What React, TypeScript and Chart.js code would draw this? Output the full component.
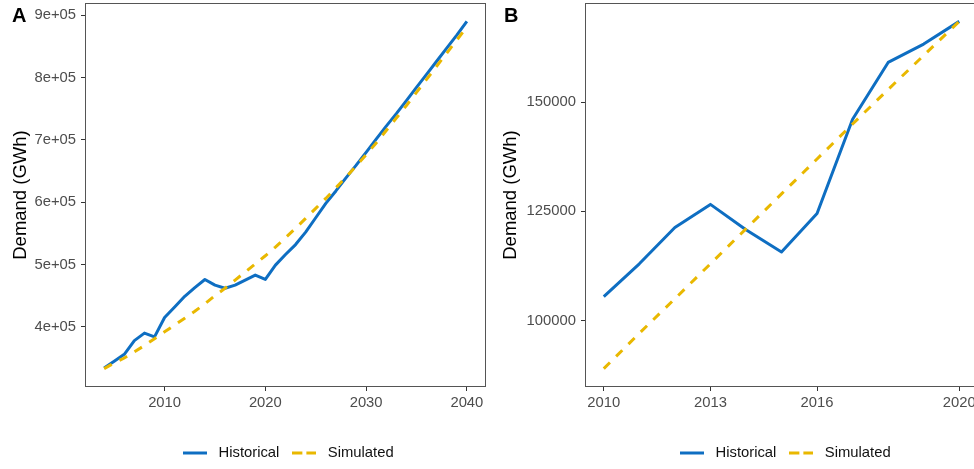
import React, { useEffect, useRef } from 'react';
import { Chart, registerables } from 'chart.js';

Chart.register(...registerables);

// ---------- data ----------
const seriesNames = ['Historical', 'Simulated'];

const yearsA = [
  2004, 2005, 2006, 2007, 2008, 2009, 2010, 2011, 2012, 2013, 2014, 2015, 2016,
  2017, 2018, 2019, 2020, 2021, 2022, 2023, 2024, 2025, 2026, 2027, 2028, 2029,
  2030, 2031, 2032, 2033, 2034, 2035, 2036, 2037, 2038, 2039, 2040,
];
const historicalA = [
  334000, 345000, 356000, 378000, 390000, 384000, 415000, 432000, 449000, 463000,
  476000, 467000, 462000, 467000, 475000, 483000, 476000, 499000, 516000, 532000,
  552000, 575000, 598000, 618000, 639000, 659000, 680000, 701000, 722000, 742000,
  763000, 784000, 805000, 826000, 847000, 868000, 890000,
];
const simulatedA = [
  333000, 342000, 350000, 360000, 370000, 381000, 392000, 403000, 414000, 425000,
  437000, 450000, 462000, 475000, 488000, 501000, 514000, 528000, 543000, 558000,
  574000, 590000, 606000, 623000, 640000, 658000, 676000, 695000, 715000, 735000,
  755000, 776000, 797000, 818000, 839000, 860000, 881000,
];

const yearsB = [2010, 2011, 2012, 2013, 2014, 2015, 2016, 2017, 2018, 2019, 2020];
const historicalB = [105500, 113000, 121300, 126600, 120800, 115700, 124500, 146100, 159100, 163300, 168500];
const simulatedB = [89000, 97100, 105000, 113000, 121000, 129000, 137000, 145000, 152900, 160700, 168500];

const xTicksA = [2010, 2020, 2030, 2040];
const xTickLabelsA = ['2010', '2020', '2030', '2040'];
const yTicksA = [400000, 500000, 600000, 700000, 800000, 900000];
const yTickLabelsA = ['4e+05', '5e+05', '6e+05', '7e+05', '8e+05', '9e+05'];

const xTicksB = [2010, 2013, 2016, 2020];
const xTickLabelsB = ['2010', '2013', '2016', '2020'];
const yTicksB = [100000, 125000, 150000];
const yTickLabelsB = ['100000', '125000', '150000'];

const yTitle = 'Demand (GWh)';

// ---------- styles ----------
const FONT = '"Liberation Sans", Arial, Helvetica, sans-serif';
const BLUE = '#0E6EC2';
const GOLD = '#E9B800';
const PLOT_DASH = [8.7, 8.7];
const KEY_DASH = [10, 4];

function makeKey(color: string, dash: number[]) {
  const c = document.createElement('canvas');
  c.width = 24;
  c.height = 4;
  const g = c.getContext('2d') as CanvasRenderingContext2D;
  g.strokeStyle = color;
  g.lineWidth = 3;
  g.lineCap = 'butt';
  g.setLineDash(dash);
  g.beginPath();
  g.moveTo(0, 2);
  g.lineTo(24, 2);
  g.stroke();
  return c;
}

const framePlugin = {
  id: 'frame',
  afterDatasetsDraw(chart: any) {
    const { ctx, chartArea: a } = chart;
    ctx.save();
    ctx.strokeStyle = '#555555';
    ctx.lineWidth = 1;
    ctx.strokeRect(Math.round(a.left) - 0.5, Math.round(a.top) - 0.5, Math.round(a.right - a.left) + 1, Math.round(a.bottom - a.top) + 1);
    ctx.restore();
  },
};

const legendShiftPlugin = {
  id: 'legendShift',
  afterLayout(chart: any, _args: any, opts: any) {
    const lg = chart.legend;
    if (!lg || !lg.lineWidths) return;
    const pad = lg.options.labels.padding;
    const cur = (lg.left + pad + lg.right - lg.lineWidths[0]) / 2;
    const dx = (opts.startX ?? cur) - cur;
    lg.left += dx;
    lg.right += dx;
    lg.top += opts.dy || 0;
    lg.bottom += opts.dy || 0;
  },
};

function range(vals: number[]) {
  const mn = Math.min(...vals);
  const mx = Math.max(...vals);
  const e = (mx - mn) * 0.05;
  return [mn - e, mx + e];
}

function makeConfig(p: {
  years: number[];
  hist: number[];
  sim: number[];
  xTicks: number[];
  xLabels: string[];
  yTicks: number[];
  yLabels: string[];
  padLeft: number;
  padRight: number;
  yWidth: number;
  legendStart: number;
  keys: HTMLCanvasElement[];
}) {
  const [xmin, xmax] = range(p.years);
  const [ymin, ymax] = range([...p.hist, ...p.sim]);
  const tickFont = { family: FONT, size: 14.8 };
  return {
    type: 'line',
    data: {
      datasets: [
        {
          label: seriesNames[0],
          data: p.years.map((x, i) => ({ x, y: p.hist[i] })),
          borderColor: BLUE,
          backgroundColor: BLUE,
          borderWidth: 3,
          pointRadius: 0,
          tension: 0,
          borderJoinStyle: 'round',
          borderCapStyle: 'butt',
          order: 1,
        },
        {
          label: seriesNames[1],
          data: p.years.map((x, i) => ({ x, y: p.sim[i] })),
          borderColor: GOLD,
          backgroundColor: GOLD,
          borderWidth: 3,
          borderDash: PLOT_DASH,
          pointRadius: 0,
          tension: 0,
          borderCapStyle: 'butt',
          order: 0,
        },
      ],
    },
    options: {
      responsive: false,
      animation: false,
      events: [],
      layout: { padding: { left: p.padLeft, right: p.padRight, top: 4, bottom: 0 } },
      plugins: {
        tooltip: { enabled: false },
        legend: {
          position: 'bottom',
          labels: {
            usePointStyle: true,
            pointStyleWidth: 24,
            padding: 13,
            color: '#111111',
            font: { family: FONT, size: 14.8 },
            sort: (a: any, b: any) => a.datasetIndex - b.datasetIndex,
            generateLabels: (chart: any) =>
              Chart.defaults.plugins.legend.labels
                .generateLabels(chart)
                .map((it: any) => ({ ...it, text: ' ' + it.text, pointStyle: p.keys[it.datasetIndex] })),
          },
        },
        legendShift: { startX: p.legendStart, dy: 1.4 },
      },
      scales: {
        x: {
          type: 'linear',
          min: xmin,
          max: xmax,
          afterBuildTicks: (s: any) => {
            s.ticks = p.xTicks.map((v) => ({ value: v }));
          },
          afterFit: (s: any) => {
            s.height = 45.2;
            s.paddingLeft = 0;
            s.paddingRight = 0;
          },
          ticks: {
            callback: (_v: any, i: number) => p.xLabels[i],
            font: tickFont,
            color: '#4D4D4D',
            padding: 3,
            maxRotation: 0,
            autoSkip: false,
          },
          grid: { drawOnChartArea: false, drawTicks: true, tickLength: 5, tickColor: '#333333', color: '#333333' },
          border: { display: false },
        },
        y: {
          type: 'linear',
          min: ymin,
          max: ymax,
          afterBuildTicks: (s: any) => {
            s.ticks = p.yTicks.map((v) => ({ value: v }));
          },
          afterFit: (s: any) => {
            s.width = p.yWidth;
            s.paddingTop = 0;
            s.paddingBottom = 0;
          },
          ticks: {
            callback: (_v: any, i: number) => p.yLabels[i],
            font: tickFont,
            color: '#4D4D4D',
            padding: 5,
            autoSkip: false,
          },
          grid: { drawOnChartArea: false, drawTicks: true, tickLength: 5, tickColor: '#333333', color: '#333333' },
          border: { display: false },
          title: {
            display: true,
            text: yTitle,
            color: '#000000',
            font: { family: FONT, size: 18.5 },
            padding: { top: 6, bottom: 0 },
          },
        },
      },
    },
    plugins: [framePlugin, legendShiftPlugin],
  };
}

export default function App() {
  const refA = useRef<HTMLCanvasElement | null>(null);
  const refB = useRef<HTMLCanvasElement | null>(null);

  useEffect(() => {
    document.body.style.margin = '0';
    document.body.style.overflow = 'hidden';
    const keys = [makeKey(BLUE, []), makeKey(GOLD, KEY_DASH)];
    const a = new Chart(
      refA.current as HTMLCanvasElement,
      makeConfig({
        years: yearsA,
        hist: historicalA,
        sim: simulatedA,
        xTicks: xTicksA,
        xLabels: xTickLabelsA,
        yTicks: yTicksA,
        yLabels: yTickLabelsA,
        padLeft: 4,
        padRight: 2,
        yWidth: 82,
        legendStart: 183,
        keys,
      }) as any
    );
    const b = new Chart(
      refB.current as HTMLCanvasElement,
      makeConfig({
        years: yearsB,
        hist: historicalB,
        sim: simulatedB,
        xTicks: xTicksB,
        xLabels: xTickLabelsB,
        yTicks: yTicksB,
        yLabels: yTickLabelsB,
        padLeft: 7,
        padRight: 10,
        yWidth: 92,
        legendStart: 193,
        keys,
      }) as any
    );
    return () => {
      a.destroy();
      b.destroy();
    };
  }, []);

  const tagStyle: React.CSSProperties = {
    position: 'absolute',
    top: 5,
    fontFamily: FONT,
    fontWeight: 'bold',
    fontSize: 20,
    lineHeight: '20px',
    color: '#000',
  };

  return (
    <div
      style={{
        position: 'fixed',
        left: 0,
        top: 0,
        width: 974,
        height: 469,
        overflow: 'hidden',
        background: '#ffffff',
      }}
    >
      <canvas ref={refA} width={487} height={469} style={{ position: 'absolute', left: 0, top: 0 }} />
      <canvas ref={refB} width={500} height={469} style={{ position: 'absolute', left: 487, top: 0 }} />
      <div style={{ ...tagStyle, left: 12 }}>A</div>
      <div style={{ ...tagStyle, left: 504 }}>B</div>
    </div>
  );
}
